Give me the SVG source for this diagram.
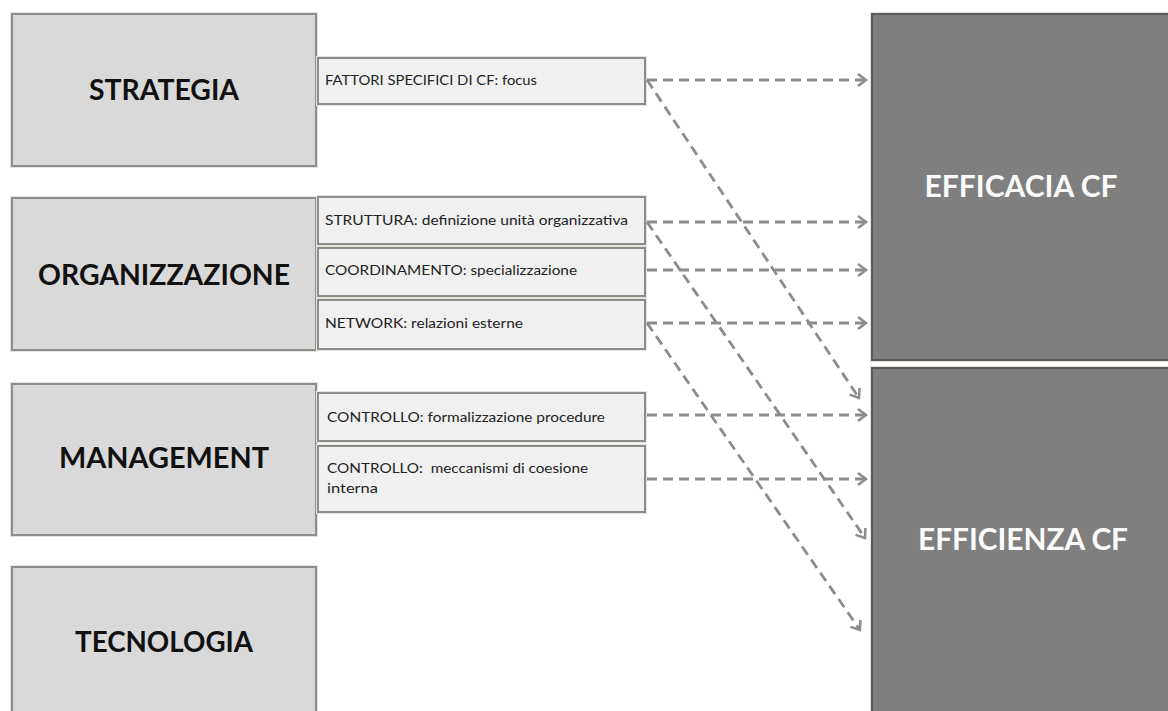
<svg xmlns="http://www.w3.org/2000/svg" width="1168" height="711" viewBox="0 0 1168 711">
  <defs>
    <style>
      .area rect.body { fill: #d9d9d9; stroke: #8c8c8c; stroke-width: 2; }
      .item rect.body { fill: #f0f0f0; stroke: #8c8c8c; stroke-width: 2; }
      .result rect.body { fill: #7f7f7f; stroke: #5c5c5c; stroke-width: 2; }
      rect.rim { fill: none; stroke: #e6e4d9; stroke-width: 1; }
      .area text { font-family: Lato, "Open Sans", sans-serif; font-weight: bold; font-size: 28px; fill: #111; text-anchor: middle; }
      .item text { font-family: Lato, "Open Sans", sans-serif; font-size: 13.5px; fill: #222; }
      .result text { font-family: Lato, "Open Sans", sans-serif; font-weight: bold; font-size: 30px; fill: #fbfbfb; text-anchor: middle; }
      #links line { stroke: #8c8c8c; stroke-width: 2.8; stroke-dasharray: 10 6; fill: none; marker-end: url(#head); }
    </style>
    <marker id="head" markerUnits="userSpaceOnUse" markerWidth="14" markerHeight="16" refX="9" refY="7" orient="auto">
      <path d="M1,1 L9,7 L1,13" fill="none" stroke="#8c8c8c" stroke-width="2.5" stroke-dasharray="none"/>
    </marker>
  </defs>

  <rect width="1168" height="711" fill="#ffffff"/>

  <!-- left column: areas -->
  <g id="strategia" class="area">
    <rect class="rim" x="10.5" y="12.5" width="307" height="155"/>
    <rect class="body" x="12" y="14" width="304" height="152"/>
    <text x="164" y="100" textLength="150" lengthAdjust="spacingAndGlyphs">STRATEGIA</text>
  </g>
  <g id="organizzazione" class="area">
    <rect class="rim" x="10.5" y="196.5" width="307" height="155"/>
    <rect class="body" x="12" y="198" width="304" height="152"/>
    <text x="164" y="285" textLength="252" lengthAdjust="spacingAndGlyphs">ORGANIZZAZIONE</text>
  </g>
  <g id="management" class="area">
    <rect class="rim" x="10.5" y="382.5" width="307" height="154"/>
    <rect class="body" x="12" y="384" width="304" height="151"/>
    <text x="164" y="468" textLength="210" lengthAdjust="spacingAndGlyphs">MANAGEMENT</text>
  </g>
  <g id="tecnologia" class="area">
    <rect class="rim" x="10.5" y="565.5" width="307" height="160"/>
    <rect class="body" x="12" y="567" width="304" height="160"/>
    <text x="164" y="652" textLength="178" lengthAdjust="spacingAndGlyphs">TECNOLOGIA</text>
  </g>

  <!-- middle column: factors -->
  <g id="fattori" class="item">
    <rect class="rim" x="316.5" y="56.5" width="330" height="49"/>
    <rect class="body" x="318" y="58" width="327" height="46"/>
    <text x="325" y="85" textLength="212" lengthAdjust="spacingAndGlyphs">FATTORI SPECIFICI DI CF: focus</text>
  </g>
  <g id="struttura" class="item">
    <rect class="rim" x="316.5" y="195.5" width="330" height="50"/>
    <rect class="body" x="318" y="197" width="327" height="47"/>
    <text x="325" y="225" textLength="303" lengthAdjust="spacingAndGlyphs">STRUTTURA: definizione unità organizzativa</text>
  </g>
  <g id="coordinamento" class="item">
    <rect class="rim" x="316.5" y="246.5" width="330" height="51"/>
    <rect class="body" x="318" y="248" width="327" height="48"/>
    <text x="325" y="275" textLength="252" lengthAdjust="spacingAndGlyphs">COORDINAMENTO: specializzazione</text>
  </g>
  <g id="network" class="item">
    <rect class="rim" x="316.5" y="298.5" width="330" height="52"/>
    <rect class="body" x="318" y="300" width="327" height="49"/>
    <text x="325" y="328" textLength="198" lengthAdjust="spacingAndGlyphs">NETWORK: relazioni esterne</text>
  </g>
  <g id="controllo-procedure" class="item">
    <rect class="rim" x="316.5" y="391.5" width="330" height="51"/>
    <rect class="body" x="318" y="393" width="327" height="48"/>
    <text x="327" y="422" textLength="278" lengthAdjust="spacingAndGlyphs">CONTROLLO: formalizzazione procedure</text>
  </g>
  <g id="controllo-coesione" class="item">
    <rect class="rim" x="316.5" y="444.5" width="330" height="69"/>
    <rect class="body" x="318" y="446" width="327" height="66"/>
    <text x="327" y="473" textLength="261" lengthAdjust="spacingAndGlyphs" xml:space="preserve">CONTROLLO:  meccanismi di coesione</text>
    <text x="327" y="493" textLength="51" lengthAdjust="spacingAndGlyphs">interna</text>
  </g>

  <!-- right column: outcomes -->
  <g id="efficacia" class="result">
    <rect class="rim" x="870.5" y="12.5" width="310" height="349"/>
    <rect class="body" x="872" y="14" width="310" height="346"/>
    <text x="1021" y="197" textLength="193" lengthAdjust="spacingAndGlyphs">EFFICACIA CF</text>
  </g>
  <g id="efficienza" class="result">
    <rect class="rim" x="870.5" y="366.5" width="310" height="360"/>
    <rect class="body" x="872" y="368" width="310" height="360"/>
    <text x="1023" y="550" textLength="210" lengthAdjust="spacingAndGlyphs">EFFICIENZA CF</text>
  </g>

  <!-- dashed connectors -->
  <g id="links">
    <line x1="647" y1="80" x2="866" y2="80"/>
    <line x1="647" y1="222" x2="866" y2="222"/>
    <line x1="647" y1="270" x2="866" y2="270"/>
    <line x1="647" y1="323" x2="866" y2="323"/>
    <line x1="647" y1="415" x2="866" y2="415"/>
    <line x1="647" y1="479" x2="866" y2="479"/>
    <line x1="647" y1="80" x2="859" y2="398"/>
    <line x1="647" y1="222" x2="865" y2="538"/>
    <line x1="647" y1="323" x2="860" y2="630"/>
  </g>
</svg>
